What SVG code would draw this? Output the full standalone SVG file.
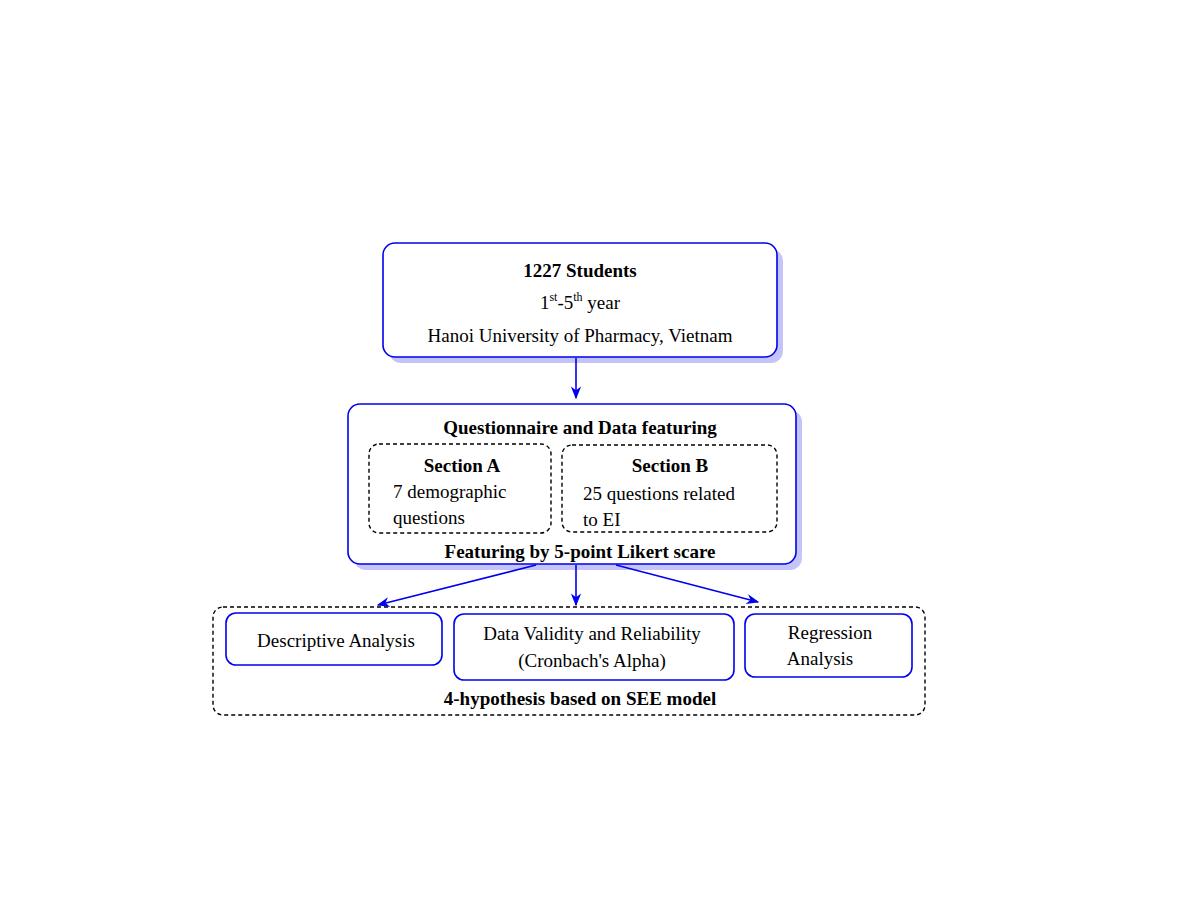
<svg xmlns="http://www.w3.org/2000/svg" width="1190" height="900" viewBox="0 0 1190 900">
<style>
.b{fill:#fff;stroke:#0000ee;stroke-width:1.6}
.sh{fill:#c4c4f8}
.d{fill:none;stroke:#000;stroke-width:1.4;stroke-dasharray:4,3}
text{font-family:"Liberation Serif",serif;font-size:19px;fill:#000;text-anchor:middle}
.bd{font-weight:bold}
.c{stroke:#0000ee;stroke-width:1.6;fill:none}
</style>
<defs><marker id="a" viewBox="0 0 10 10" refX="9" refY="5" markerWidth="8" markerHeight="8" orient="auto"><path d="M0,1 L10,5 L0,9 L3,5Z" fill="#0000ee"/></marker></defs>
<rect width="1190" height="900" fill="#fff"/>
<g id="n1">
<rect class="sh" x="389" y="249" width="394" height="114" rx="12"/>
<rect class="b" x="383" y="243" width="394" height="114" rx="12"/>
<text x="580" y="277" class="bd">1227 Students</text>
<text x="580" y="309">1<tspan font-size="12" dy="-8">st</tspan><tspan dy="8">-5</tspan><tspan font-size="12" dy="-8">th</tspan><tspan dy="8"> year</tspan></text>
<text x="580" y="342">Hanoi University of Pharmacy, Vietnam</text>
</g>
<g id="n2">
<rect class="sh" x="354" y="410" width="448" height="160" rx="12"/>
<rect class="b" x="348" y="404" width="448" height="160" rx="12"/>
<text x="580" y="434" class="bd">Questionnaire and Data featuring</text>
<text x="580" y="558" class="bd">Featuring by 5-point Likert scare</text>
</g>
<g id="secA">
<rect class="d" x="369" y="444" width="182" height="89" rx="10"/>
<text x="462" y="472" class="bd">Section A</text>
<text x="393" y="498" style="text-anchor:start">7 demographic</text>
<text x="393" y="524" style="text-anchor:start">questions</text>
</g>
<g id="secB">
<rect class="d" x="562" y="445" width="215" height="87" rx="10"/>
<text x="670" y="472" class="bd">Section B</text>
<text x="583" y="500" style="text-anchor:start">25 questions related</text>
<text x="583" y="526" style="text-anchor:start">to EI</text>
</g>
<g id="grp">
<rect class="d" x="213" y="607" width="712" height="108" rx="10"/>
<text x="580" y="705" class="bd">4-hypothesis based on SEE model</text>
</g>
<g id="desc">
<rect class="b" x="226" y="613" width="216" height="52" rx="10"/>
<text x="336" y="647">Descriptive Analysis</text>
</g>
<g id="valid">
<rect class="b" x="454" y="614" width="280" height="66" rx="10"/>
<text x="592" y="640">Data Validity and Reliability</text>
<text x="592" y="667">(Cronbach's Alpha)</text>
</g>
<g id="reg">
<rect class="b" x="745" y="614" width="167" height="63" rx="10"/>
<text x="830" y="639">Regression</text>
<text x="820" y="665">Analysis</text>
</g>
<g id="connectors">
<line class="c" x1="576" y1="358" x2="576" y2="398" marker-end="url(#a)"/>
<line class="c" x1="536" y1="565" x2="378" y2="605" marker-end="url(#a)"/>
<line class="c" x1="576" y1="565" x2="576" y2="605" marker-end="url(#a)"/>
<line class="c" x1="616" y1="565" x2="758" y2="602" marker-end="url(#a)"/>
</g>
</svg>
